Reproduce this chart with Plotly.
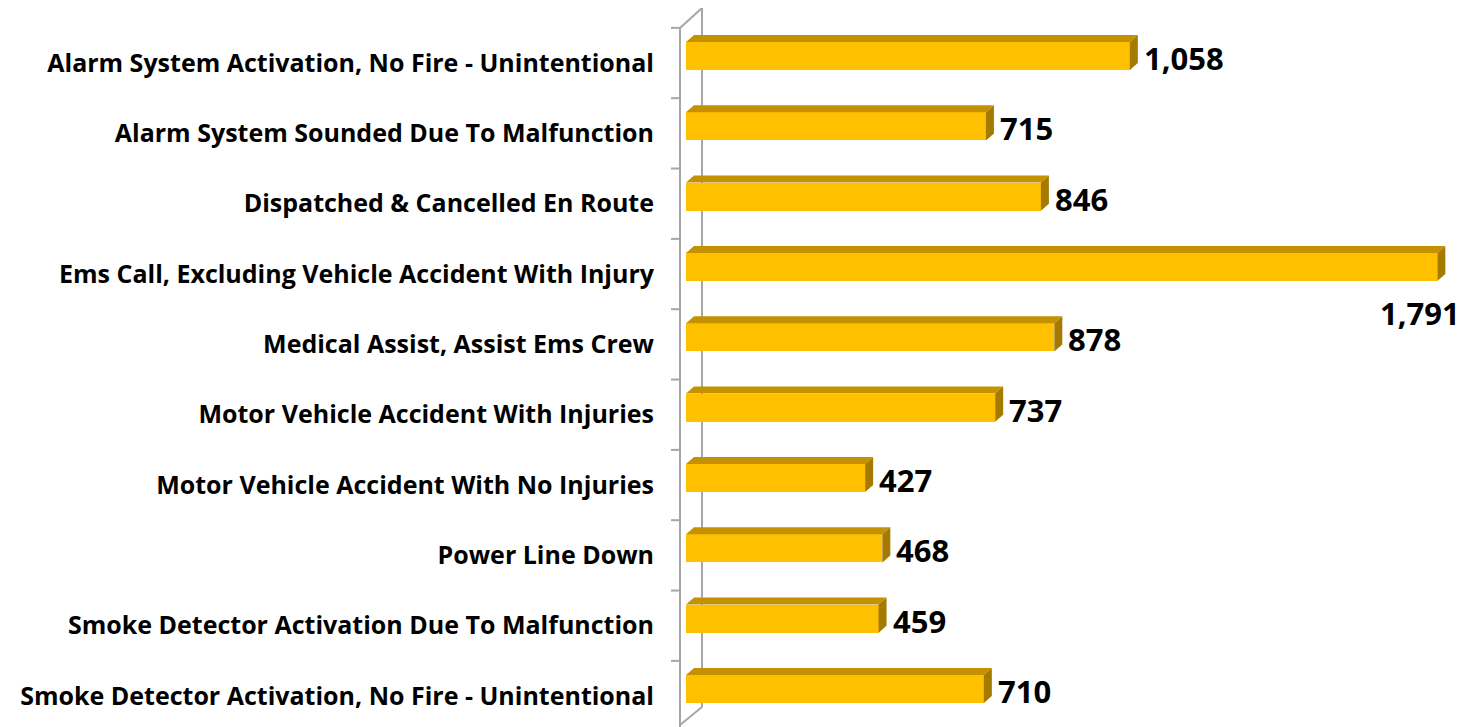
import plotly.graph_objs as go

categories = [
    "Alarm System Activation, No Fire - Unintentional",
    "Alarm System Sounded Due To Malfunction",
    "Dispatched & Cancelled En Route",
    "Ems Call, Excluding Vehicle Accident With Injury",
    "Medical Assist, Assist Ems Crew",
    "Motor Vehicle Accident With Injuries",
    "Motor Vehicle Accident With No Injuries",
    "Power Line Down",
    "Smoke Detector Activation Due To Malfunction",
    "Smoke Detector Activation, No Fire - Unintentional",
]
counts = [1058, 715, 846, 1791, 878, 737, 427, 468, 459, 710]

OFF = 8                        # page body margin
W, H = 1476 - OFF, 727 - OFF
ML, MR = 686 - OFF, 22
plot_w = W - ML - MR
px_x = 0.4195                  # pixels per count
x_max = plot_w / px_x
row_px = 70.33                 # pixels per category
y_top = -(56 - OFF) / row_px
y_bot = 9 + (H - (689 - OFF)) / row_px

bar_w = 0.40
dx = 8 / px_x                  # depth offset in data units
dy = 7 / row_px

front = "#FFC000"
top_c = "#C49200"
side_c = "#A47A00"

fig = go.Figure()
fig.add_trace(go.Bar(y=list(range(len(categories))), x=counts, orientation="h",
                     width=bar_w, marker=dict(color=front, line=dict(width=0)),
                     hoverinfo="skip", showlegend=False))

# 3d top and side faces of each bar
for i, v in enumerate(counts):
    t = i - bar_w / 2
    b = i + bar_w / 2
    fig.add_trace(go.Scatter(x=[0, v, v + dx, dx, 0], y=[t, t, t - dy, t - dy, t],
                             fill="toself", fillcolor=top_c, mode="none",
                             hoverinfo="skip", showlegend=False))
    fig.add_trace(go.Scatter(x=[v, v + dx, v + dx, v, v], y=[t, t - dy, b - dy, b, t],
                             fill="toself", fillcolor=side_c, mode="none",
                             hoverinfo="skip", showlegend=False))

# value labels
for i, v in enumerate(counts):
    if v * px_x + 120 > plot_w:
        fig.add_annotation(x=v, y=i, xref="x", yref="y", text=f"<b>{v:,}</b>",
                           showarrow=False, xanchor="right", xshift=25, yshift=-46,
                           font=dict(family="Open Sans", size=31, color="black"))
    else:
        fig.add_annotation(x=v + dx, y=i, xref="x", yref="y", text=f"<b>{v:,}</b>",
                           showarrow=False, xanchor="left", xshift=4, yshift=-2,
                           font=dict(family="Open Sans", size=31, color="black"))


def pxp(p):
    return (p - OFF - ML) / plot_w


def pyp(p):
    return 1 - (p - OFF) / H


wall = dict(color="#A6A6A6", width=2)
# back wall, front wall and the edges joining them
fig.add_shape(type="line", xref="paper", yref="paper", x0=pxp(702), x1=pxp(702),
              y0=pyp(8), y1=pyp(707), line=wall, layer="below")
fig.add_shape(type="line", xref="paper", yref="paper", x0=pxp(680), x1=pxp(680),
              y0=pyp(28), y1=pyp(730), line=wall)
fig.add_shape(type="line", xref="paper", yref="paper", x0=pxp(680), x1=pxp(702),
              y0=pyp(28), y1=pyp(8), line=wall)
fig.add_shape(type="line", xref="paper", yref="paper", x0=pxp(680), x1=pxp(702),
              y0=pyp(725), y1=pyp(707), line=wall, layer="below")
# tick marks between categories
for k in range(len(categories) + 1):
    fig.add_shape(type="line", xref="paper", yref="y", x0=pxp(671), x1=pxp(680),
                  y0=k - 0.4, y1=k - 0.4, line=wall)

fig.update_layout(
    width=W, height=H,
    margin=dict(l=ML, r=MR, t=0, b=0),
    plot_bgcolor="white", paper_bgcolor="white",
    bargap=0,
    xaxis=dict(range=[0, x_max], visible=False, fixedrange=True),
    yaxis=dict(range=[y_bot, y_top], tickmode="array",
               tickvals=[i + 0.1 for i in range(len(categories))], ticktext=categories,
               tickfont=dict(family="Open Sans", size=25, color="black", weight="bold"),
               ticks="", showline=False, showgrid=False, zeroline=False,
               ticklabelstandoff=31, fixedrange=True),
)

fig.write_html("out.html")
